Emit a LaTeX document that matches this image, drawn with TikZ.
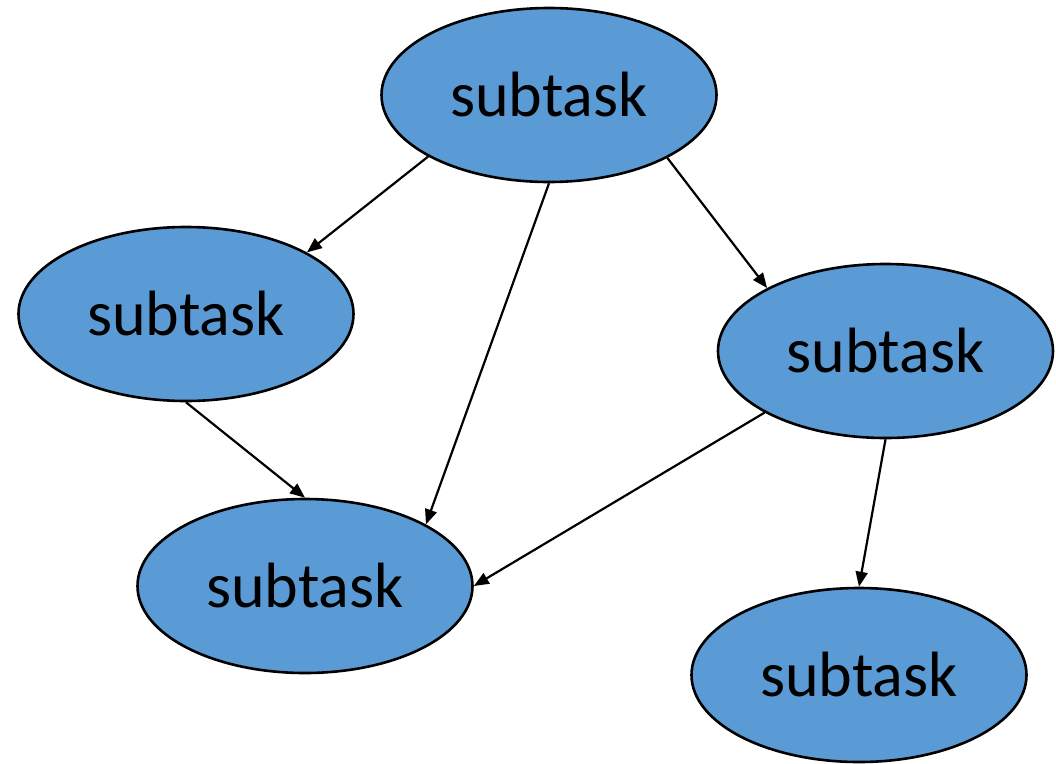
\documentclass[tikz,border=0pt]{standalone}
\usepackage{fontspec}
\setmainfont{Carlito}
\usetikzlibrary{shapes.geometric,arrows.meta}
\definecolor{taskblue}{HTML}{5B9BD5}
\tikzset{
  task/.style={ellipse, draw=black, line width=2.6pt, fill=taskblue,
    minimum width=335pt, minimum height=174pt, inner sep=0pt,
    font=\fontsize{64}{72}\selectfont},
  link/.style={line width=2.2pt, -{Triangle[length=15pt,width=12pt]}}
}
\begin{document}
\begin{tikzpicture}[x=1pt,y=-1pt]
  \useasboundingbox (0,0) rectangle (1056,763);
  \node[task] (top)   at (549,95)  {subtask};
  \node[task] (left)  at (186,314) {subtask};
  \node[task] (right) at (885.5,351) {subtask};
  \node[task] (mid)   at (305,586) {subtask};
  \node[task] (br)    at (859,675) {subtask};

  \draw[link] (top.207.6)   -- (left.27.6);
  \draw[link] (top.270)     -- (mid.27.6);
  \draw[link] (top.332.4)   -- (right.152.4);
  \draw[link] (left.270)    -- (mid.90);
  \draw[link] (right.207.6) -- (mid.0);
  \draw[link] (right.270)   -- (br.90);
\end{tikzpicture}
\end{document}
